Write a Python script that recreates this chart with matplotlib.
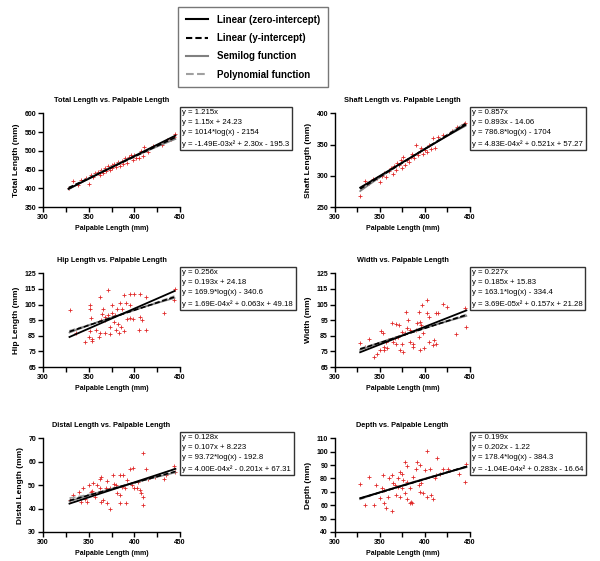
import numpy as np
import matplotlib
matplotlib.use("Agg")
import matplotlib.pyplot as plt
from matplotlib.lines import Line2D

plt.rcParams['font.family'] = ['Liberation Sans', 'DejaVu Sans']

# palpable length (mm), shared by the two upper panels
palp_upper = [328, 333, 338, 342, 347, 350, 352, 355, 357, 360, 362, 364, 366, 368,
              369, 371, 373, 375, 376, 378, 380, 382, 384, 386, 388, 390, 392, 394,
              396, 398, 400, 402, 405, 407, 409, 411, 415, 420, 430, 436, 440, 443, 445]
total_len = [402, 420, 410, 421, 428, 412, 435, 430, 440, 443, 436, 450, 441, 455,
             446, 460, 450, 462, 453, 466, 456, 470, 460, 474, 465, 480, 468, 483,
             490, 476, 488, 480, 482, 500, 486, 510, 496, 512, 515, 528, 532, 538, 545]
shaft_len = [268, 292, 288, 295, 296, 290, 300, 305, 298, 308, 312, 303, 315, 310,
             320, 318, 325, 312, 330, 318, 326, 322, 330, 335, 328, 350, 333, 340,
             345, 335, 342, 338, 350, 343, 360, 345, 362, 365, 372, 378, 380, 383, 385]

palp_hip = [329, 362, 371, 351, 351, 389, 395, 400, 406, 413, 384, 391, 395, 375, 366,
            381, 387, 353, 365, 368, 371, 376, 379, 364, 368, 392, 395, 398, 406, 408,
            378, 382, 373, 380, 385, 405, 413, 389, 383, 336, 351, 358, 362, 368, 373,
            346, 350, 354, 354, 361, 432, 444, 443]
hip_len = [101.8, 110, 114, 105, 102, 111, 112, 112, 112, 110, 106, 106, 105, 105, 102,
           102, 102, 96.5, 99, 97, 98.5, 99.6, 98, 95.4, 95.4, 96, 96.5, 96, 97, 95,
           94, 92.5, 90.5, 89, 90.5, 89, 89, 88, 87, 87, 88, 89, 87, 87, 86,
           81, 84, 83, 81.7, 84, 99.6, 115, 108]

palp_width = [328, 333, 338, 343, 347, 350, 354, 351, 353, 357, 359, 355, 358, 363, 368,
              371, 367, 370, 365, 368, 374, 372, 376, 379, 381, 380, 383, 383, 387, 387,
              391, 394, 396, 397, 402, 402, 393, 398, 394, 399, 405, 410, 409, 412, 412,
              414, 420, 424, 434, 445, 446, 393, 405, 374, 378, 390]
width_mm = [80.5, 78, 83, 71.2, 73.3, 75.9, 75.9, 88, 87, 81, 82, 78, 77, 93.3, 92.5,
            91.8, 83.3, 84.4, 81, 80, 79.7, 75.9, 74.8, 100.3, 95, 89.7, 88.6, 81, 80, 77.6,
            92.9, 94, 91.8, 104.6, 107.8, 99.7, 84.4, 86.5, 75.9, 77, 81, 82.2, 79, 79.7, 99.3,
            99.7, 105.6, 103.5, 86, 103, 90.7, 100.3, 97, 87.4, 86.5, 88.6]

palp_distal = [329, 333, 342, 346, 348, 350, 352, 354, 357, 362, 364, 362, 366, 364, 370,
               369, 373, 370, 373, 377, 378, 380, 381, 384, 384, 388, 384, 386, 390, 391,
               395, 398, 392, 397, 400, 403, 406, 404, 407, 410, 409, 410, 413, 415, 423,
               432, 435, 443, 445, 344, 339, 359, 355]
distal_len = [43.6, 46, 42.9, 44.3, 42.9, 50, 46.9, 47.4, 45, 52.8, 53.5, 48.6, 43.6, 42.9, 51.7,
              48.6, 48.9, 42.2, 40, 54.2, 50.7, 50, 46.5, 45.7, 54.5, 54.3, 42.2, 49.3, 48.9, 42.2,
              57, 57.4, 52.1, 50, 48.6, 48.6, 47.9, 51.4, 46.5, 45, 41.5, 63.9, 57, 52.8, 53.5,
              52.8, 54.2, 58.2, 55.7, 48.6, 47.2, 50, 51]

palp_depth = [328, 333, 338, 343, 346, 350, 352, 354, 353, 355, 357, 359, 363, 363, 365,
              367, 370, 368, 372, 372, 375, 378, 380, 376, 380, 378, 380, 385, 383, 386,
              387, 391, 394, 390, 393, 396, 394, 398, 402, 400, 406, 402, 407, 409, 411,
              412, 413, 420, 426, 417, 438, 444, 446, 374, 370, 383, 360]
depth_mm = [75.5, 60, 81.2, 60, 75, 65.6, 72.5, 71.3, 82.5, 61.4, 58.2, 66.3, 55.7, 82.5, 76.3,
            75, 73.8, 67.5, 66.3, 85, 83.7, 92.4, 89.4, 78.7, 77.5, 68.8, 65, 62.6, 62, 61.4,
            81.2, 92.4, 89.9, 87.4, 75, 76.3, 70, 68.8, 100.3, 86.2, 87.4, 66.3, 67.5, 65, 80,
            82.5, 95.4, 87.4, 87.4, 83, 83, 77, 91.1, 72.5, 80.5, 72.5, 80]

titles = ["Total Length vs. Palpable Length", "Shaft Length vs. Palpable Length",
          "Hip Length vs. Palpable Length", "Width vs. Palpable Length",
          "Distal Length vs. Palpable Length", "Depth vs. Palpable Length"]
ylabels = ["Total Length (mm)", "Shaft Length (mm)", "Hip Length (mm)",
           "Width (mm)", "Distal Length (mm)", "Depth (mm)"]
ylims = [(350, 600), (250, 400), (65, 125), (65, 125), (30, 70), (40, 110)]
ysteps = [50, 50, 10, 10, 10, 10]

# fitted coefficients as printed in the boxes
zero_slope = [1.215, 0.857, 0.256, 0.227, 0.128, 0.199]
lin_fit = [(1.15, 24.23), (0.893, -14.06), (0.193, 24.18),
           (0.185, 15.83), (0.107, 8.223), (0.202, -1.22)]
semilog_fit = [(1014, -2154), (786.8, -1704), (169.9, -340.6),
               (163.1, -334.4), (93.72, -192.8), (178.4, -384.3)]
poly_fit = [(-1.49e-3, 2.30, -195.3), (4.83e-4, 0.521, 57.27), (1.69e-4, 0.063, 49.18),
            (3.69e-5, 0.157, 21.28), (4.00e-4, -0.201, 67.31), (-1.04e-4, 0.283, -16.64)]
equations = [
    ["y = 1.215x", "y = 1.15x + 24.23", "y = 1014*log(x) - 2154", "y = -1.49E-03x² + 2.30x - 195.3"],
    ["y = 0.857x", "y = 0.893x - 14.06", "y = 786.8*log(x) - 1704", "y = 4.83E-04x² + 0.521x + 57.27"],
    ["y = 0.256x", "y = 0.193x + 24.18", "y = 169.9*log(x) - 340.6", "y = 1.69E-04x² + 0.063x + 49.18"],
    ["y = 0.227x", "y = 0.185x + 15.83", "y = 163.1*log(x) - 334.4", "y = 3.69E-05x² + 0.157x + 21.28"],
    ["y = 0.128x", "y = 0.107x + 8.223", "y = 93.72*log(x) - 192.8", "y = 4.00E-04x² - 0.201x + 67.31"],
    ["y = 0.199x", "y = 0.202x - 1.22", "y = 178.4*log(x) - 384.3", "y = -1.04E-04x² + 0.283x - 16.64"],
]

xs = [palp_upper, palp_upper, palp_hip, palp_width, palp_distal, palp_depth]
ys = [total_len, shaft_len, hip_len, width_mm, distal_len, depth_mm]

fig = plt.figure(figsize=(6, 5.61), dpi=100)

lefts = [0.0717, 0.5583]
widths = [0.2283, 0.225]
bottoms = [0.631, 0.3458, 0.0517]
height = 0.167

for i in range(6):
    r, c = divmod(i, 2)
    ax = fig.add_axes([lefts[c], bottoms[r], widths[c], height])
    x = np.array(xs[i], dtype=float)
    xx = np.linspace(x.min(), x.max(), 100)

    ax.plot(x, ys[i], '+', color='#e02828', ms=3, mew=0.6, zorder=2)

    a2, a1, a0 = poly_fit[i]
    ax.plot(xx, a2 * xx ** 2 + a1 * xx + a0, '--', color='#a0a0a0', lw=1.2, zorder=3)
    sa, sb = semilog_fit[i]
    ax.plot(xx, sa * np.log10(xx) + sb, '-', color='#808080', lw=1.2, zorder=3)
    m, b = lin_fit[i]
    ax.plot(xx, m * xx + b, '--', color='black', lw=1.2, dashes=(3, 1.5), zorder=4)
    ax.plot(xx, zero_slope[i] * xx, '-', color='black', lw=1.3, zorder=5)

    ax.set_xlim(300, 450)
    ax.set_ylim(*ylims[i])
    ax.set_xticks([300, 350, 400, 450])
    ax.set_xticks([325, 375, 425], minor=True)
    ax.set_yticks(np.arange(ylims[i][0], ylims[i][1] + 1, ysteps[i]))
    for s in ['top', 'right']:
        ax.spines[s].set_visible(False)
    for s in ['left', 'bottom']:
        ax.spines[s].set_linewidth(1.0)
    ax.tick_params(which='both', direction='out', length=3.5, width=1.0, pad=1.5,
                   labelsize=5.0)
    for lab in ax.get_xticklabels() + ax.get_yticklabels():
        lab.set_fontweight('bold')

    ax.set_title(titles[i], fontsize=5.3, fontweight='bold', pad=8)
    ax.set_xlabel("Palpable Length (mm)", fontsize=5.0, fontweight='bold', labelpad=3)
    ax.set_ylabel(ylabels[i], fontsize=6.0, fontweight='bold', labelpad=3)

    ax.text(1.018, 1.045, "\n".join(equations[i]), transform=ax.transAxes,
            ha='left', va='top', fontsize=5.6, linespacing=1.62,
            bbox=dict(boxstyle='square,pad=0.3', fc='white', ec='#333333', lw=1.0))

handles = [Line2D([], [], color='black', lw=1.5),
           Line2D([], [], color='black', lw=1.5, ls='--', dashes=(3, 1.5)),
           Line2D([], [], color='#808080', lw=1.5),
           Line2D([], [], color='#a0a0a0', lw=1.5, ls='--')]
labels = ["Linear (zero-intercept)", "Linear (y-intercept)",
          "Semilog function", "Polynomial function"]
leg = fig.legend(handles, labels, loc='upper left', bbox_to_anchor=(0.2967, 0.9875),
                 prop={'size': 7, 'weight': 'bold'}, handlelength=2.3,
                 labelspacing=0.85, borderpad=0.8, handletextpad=0.9,
                 borderaxespad=0, fancybox=False, edgecolor='#555555')
leg.get_frame().set_linewidth(1.0)

fig.savefig('out.png', dpi=100)
